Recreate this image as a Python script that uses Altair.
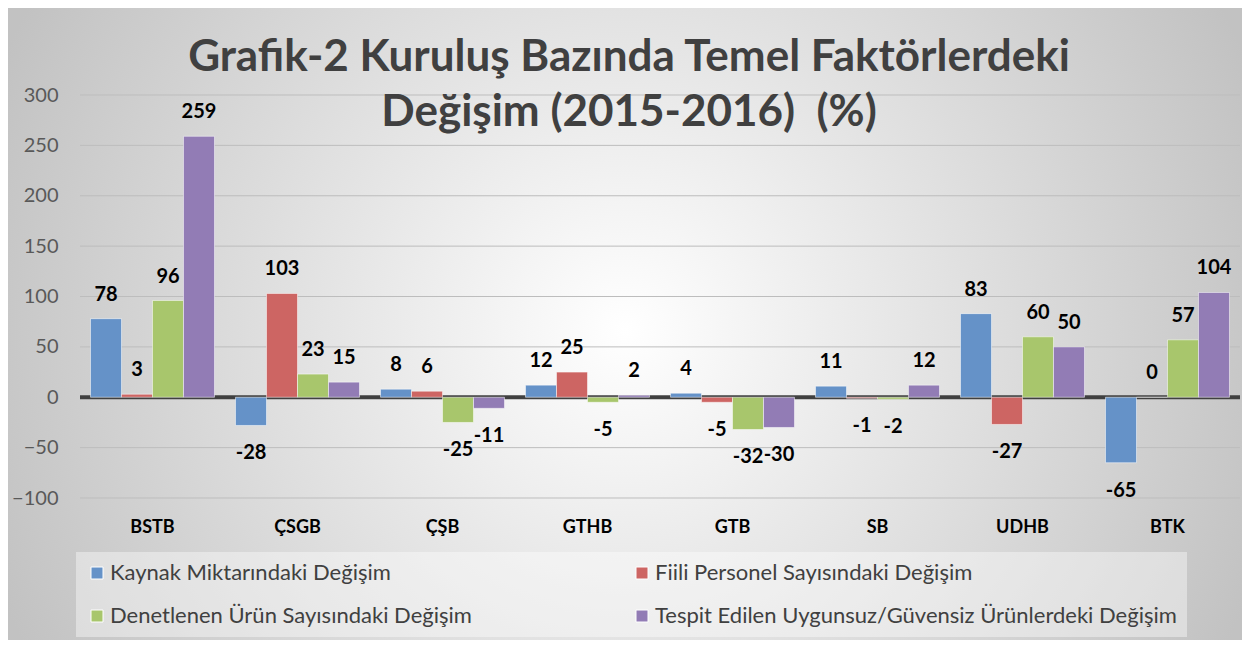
import altair as alt
import pandas as pd

categories = ["BSTB", "ÇSGB", "ÇŞB", "GTHB", "GTB", "SB", "UDHB", "BTK"]
series_names = [
    "Kaynak Miktarındaki Değişim",
    "Fiili Personel Sayısındaki Değişim",
    "Denetlenen Ürün Sayısındaki Değişim",
    "Tespit Edilen Uygunsuz/Güvensiz Ürünlerdeki Değişim",
]
kaynak = [78, -28, 8, 12, 4, 11, 83, -65]
fiili = [3, 103, 6, 25, -5, -1, -27, 0]
denetlenen = [96, 23, -25, -5, -32, -2, 60, 57]
tespit = [259, 15, -11, 2, -30, 12, 50, 104]
y_ticks = [-100, -50, 0, 50, 100, 150, 200, 250, 300]
grid_values = [-100, -50, 50, 100, 150, 200, 250, 300]
colors = ["#6592C8", "#CD6563", "#A8C66C", "#927CB5"]
title_lines = ["Grafik-2 Kuruluş Bazında Temel Faktörlerdeki", "Değişim (2015-2016) \u00a0(%)"]

# legend fills column by column: order entries so rows read like the reference
legend_order = [series_names[0], series_names[2], series_names[1], series_names[3]]
legend_colors = [colors[0], colors[2], colors[1], colors[3]]

rows = []
for s, vals in zip(series_names, [kaynak, fiili, denetlenen, tespit]):
    for c, v in zip(categories, vals):
        rows.append({"cat": c, "series": s, "v": v})
df = pd.DataFrame(rows)

W, H = 1160, 403
PL, PT, PR, PB = 72, 87, 2, 142

y_enc = alt.Y(
    "v:Q",
    scale=alt.Scale(domain=[-100, 300], nice=False, zero=False),
    axis=alt.Axis(values=y_ticks, grid=False, domain=False, ticks=False, title=None, zindex=1,
                  labelFont="Lato", labelFontSize=20, labelColor="#595959", labelPadding=22),
)
x_enc = alt.X(
    "cat:N",
    sort=categories,
    scale=alt.Scale(paddingInner=0.145, paddingOuter=0.0725),
    axis=alt.Axis(title=None, domain=False, ticks=False, labelAngle=0, labelFont="Lato", zindex=1,
                  labelFontSize=18, labelFontWeight="bold", labelColor="#000000", labelPadding=20),
)
xo_enc = alt.XOffset("series:N", sort=series_names, scale=alt.Scale(paddingInner=0, paddingOuter=0))

gradient = {
    "gradient": "radial",
    "x1": 0.5, "y1": 0.5, "r1": 0,
    "x2": 0.5, "y2": 0.5, "r2": 0.55,
    "stops": [
        {"offset": 0, "color": "#ffffff"},
        {"offset": 1, "color": "#c2c2c2"},
    ],
}
bg = alt.Chart(pd.DataFrame({"a": [0]})).mark_rect(color=gradient).encode(
    x=alt.value(-PL), x2=alt.value(W + PR), y=alt.value(235 - 617), y2=alt.value(235 + 617)
)

grid = alt.Chart(pd.DataFrame({"v": grid_values})).mark_rule(color="#bdbdbd", strokeWidth=1).encode(y=y_enc)
zero = alt.Chart(pd.DataFrame({"v": [0]})).mark_rule(color="#404040", strokeWidth=4).encode(y=y_enc)

base = alt.Chart(df).transform_calculate(lab="'' + datum.v")
bars = base.mark_bar(stroke="#ffffff", strokeOpacity=0.5, strokeWidth=1).encode(
    x=x_enc,
    xOffset=xo_enc,
    y=y_enc,
    color=alt.Color(
        "series:N",
        scale=alt.Scale(domain=legend_order, range=legend_colors),
        legend=alt.Legend(
            orient="none", legendX=-4, legendY=457, columns=2, columnPadding=159,
            title=None, labelFont="Lato", labelFontSize=22, labelColor="#404040",
            labelLimit=900, symbolType="square", symbolSize=144, rowPadding=21,
            padding=10, fillColor="rgba(255,255,255,0.4)", labelOffset=2,
            symbolStrokeColor="#ffffff", symbolStrokeWidth=1, symbolOpacity=1,
        ),
    ),
)
lab_pos = base.transform_filter("datum.v >= 0").mark_text(
    font="Lato", fontSize=20, fontWeight="bold", color="#000000", baseline="middle", dy=-24
).encode(x=x_enc, xOffset=xo_enc, y=y_enc, text="lab:N")
lab_neg = base.transform_filter("datum.v < 0").mark_text(
    font="Lato", fontSize=20, fontWeight="bold", color="#000000", baseline="middle", dy=28
).encode(x=x_enc, xOffset=xo_enc, y=y_enc, text="lab:N")

t1 = alt.Chart(pd.DataFrame({"t": [title_lines[0]]})).mark_text(
    font="Lato", fontSize=44, fontWeight="bold", color="#404040", align="center", baseline="middle"
).encode(x=alt.value(549), y=alt.value(-37), text="t:N")
t2 = alt.Chart(pd.DataFrame({"t": [title_lines[1]]})).mark_text(
    font="Lato", fontSize=44, fontWeight="bold", color="#404040", align="center", baseline="middle"
).encode(x=alt.value(549), y=alt.value(18), text="t:N")

chart = alt.layer(bg, grid, zero, bars, lab_pos, lab_neg, t1, t2).properties(
    width=W, height=H,
    padding={"left": PL, "top": PT, "right": PR, "bottom": PB},
    autosize=alt.AutoSizeParams(type="none"),
).configure_view(stroke=None)

chart.save("out.html", embed_options={"renderer": "svg", "actions": False})
